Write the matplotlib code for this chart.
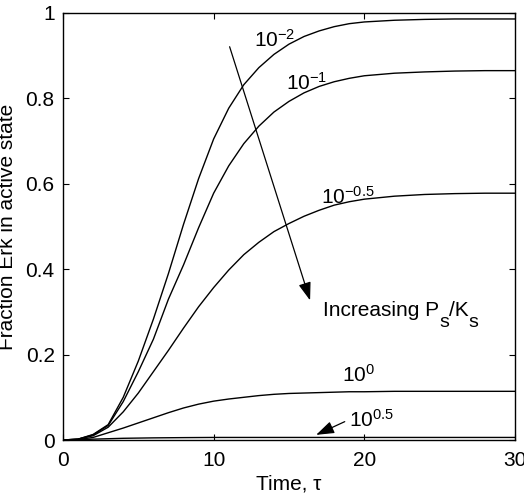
import matplotlib
matplotlib.use("Agg")
import matplotlib.pyplot as plt
from matplotlib.font_manager import FontProperties

plt.rcParams['font.family'] = ['Liberation Sans', 'DejaVu Sans']
plt.rcParams['mathtext.fontset'] = 'custom'
plt.rcParams['mathtext.rm'] = 'Liberation Sans'
plt.rcParams['mathtext.it'] = 'Liberation Sans:italic'
plt.rcParams['mathtext.default'] = 'regular'

# time points (tau) and fraction of active Erk
tau = [0, 1, 2, 3, 4, 5, 6, 7, 8, 9, 10, 11, 12, 13, 14, 15, 16, 17, 18, 19, 20,
       22, 24, 26, 28, 30]
erk_m2 = [0, 0.002, 0.013, 0.036, 0.10, 0.185, 0.283, 0.39, 0.505, 0.612, 0.705,
          0.777, 0.832, 0.872, 0.903, 0.927, 0.945, 0.958, 0.968, 0.975, 0.979,
          0.983, 0.985, 0.986, 0.986, 0.986]
erk_m1 = [0, 0.002, 0.012, 0.034, 0.09, 0.16, 0.236, 0.33, 0.41, 0.497, 0.578,
          0.642, 0.694, 0.735, 0.768, 0.793, 0.813, 0.828, 0.839, 0.847, 0.853,
          0.859, 0.862, 0.864, 0.865, 0.865]
erk_m05 = [0, 0.002, 0.01, 0.03, 0.066, 0.11, 0.16, 0.21, 0.262, 0.312, 0.357,
           0.398, 0.434, 0.463, 0.488, 0.507, 0.524, 0.538, 0.55, 0.558, 0.564,
           0.571, 0.575, 0.577, 0.578, 0.578]
erk_0 = [0, 0.001, 0.006, 0.017, 0.028, 0.04, 0.052, 0.064, 0.075, 0.084, 0.091,
         0.096, 0.1, 0.104, 0.107, 0.109, 0.11, 0.111, 0.112, 0.113, 0.113,
         0.114, 0.114, 0.114, 0.114, 0.114]
erk_05 = [0, 0.0005, 0.002, 0.003, 0.004, 0.0045, 0.005, 0.0053, 0.0056, 0.0058, 0.006,
          0.006, 0.006, 0.006, 0.006, 0.006, 0.006, 0.006, 0.006, 0.006, 0.006,
          0.006, 0.006, 0.006, 0.006, 0.006]

curves = [erk_m2, erk_m1, erk_m05, erk_0, erk_05]
labels = ['$10^{-2}$', '$10^{-1}$', '$10^{-0.5}$', '$10^{0}$', '$10^{0.5}$']
label_pos = [(12.7, 0.92), (14.8, 0.82), (17.1, 0.554), (18.5, 0.136), (19.0, 0.03)]

fig = plt.figure(figsize=(5.24, 4.94), dpi=100)
ax = fig.add_axes([0.1202, 0.1093, 0.8626, 0.8644])

for c in curves:
    ax.plot(tau, c, color='k', lw=1.0)

for lab, (x, y) in zip(labels, label_pos):
    ax.text(x, y, lab, fontsize=15, ha='left', va='baseline')

# "Increasing Ps/Ks" with big, low subscripts, built piece by piece
pieces = [('Increasing P', 15, 0), ('s', 14, -7.5), ('/K', 15, 0), ('s', 14, -7.5)]
renderer = fig.canvas.get_renderer()
dx = 0
for s, fs, dy in pieces:
    ax.annotate(s, xy=(17.26, 0.29), xytext=(dx, dy), textcoords='offset points',
                fontsize=fs, ha='left', va='baseline')
    fp = FontProperties(family='Liberation Sans', size=fs)
    w, h, d = renderer.get_text_width_height_descent(s, fp, ismath=False)
    dx += w * 72.0 / fig.dpi

ax.annotate('', xy=(16.4, 0.327), xytext=(11.06, 0.921),
            arrowprops=dict(arrowstyle='-|>,head_length=1.1,head_width=0.38',
                            color='k', lw=0.9, shrinkA=0, shrinkB=0))
ax.annotate('', xy=(16.8, 0.012), xytext=(18.7, 0.043),
            arrowprops=dict(arrowstyle='-|>,head_length=1.1,head_width=0.38',
                            color='k', lw=0.9, shrinkA=0, shrinkB=0))

ax.set_xlim(0, 30)
ax.set_ylim(0, 1)
ax.set_xticks([0, 10, 20, 30])
ax.set_yticks([0, 0.2, 0.4, 0.6, 0.8, 1])
ax.set_yticklabels(['0', '0.2', '0.4', '0.6', '0.8', '1'])
ax.tick_params(direction='in', top=True, right=True, length=4, width=0.8, labelsize=15)
ax.tick_params(axis='x', pad=8)
ax.tick_params(axis='y', pad=6)
for s in ax.spines.values():
    s.set_linewidth(1.0)

ax.set_xlabel('Time, τ', fontsize=15, labelpad=3)
ax.set_ylabel('Fraction Erk in active state', fontsize=15)
ax.yaxis.set_label_coords(-0.102, 0.5)

fig.savefig('out.png', dpi=100)
